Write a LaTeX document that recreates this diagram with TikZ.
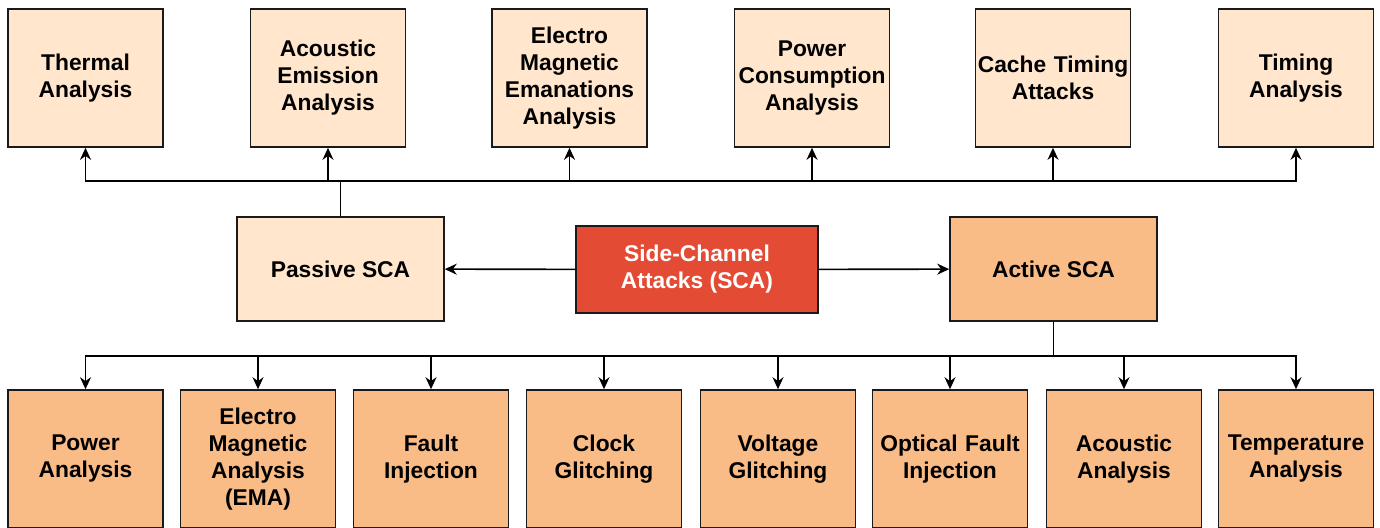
\documentclass[tikz,border=0pt]{standalone}
\usepackage{fontspec}
\setmainfont{Liberation Sans}
\usepackage{tikz}
\usetikzlibrary{calc,positioning,arrows.meta}
\definecolor{lightpeach}{HTML}{FFE6CC}
\definecolor{peach}{HTML}{FABC87}
\definecolor{scared}{HTML}{E34B34}
\definecolor{edgegray}{HTML}{1A1A1A}
\tikzset{
	x=0.5pt,
	y=-0.5pt,
	>={Stealth[length=6pt,width=5.5pt]},
	box/.style={draw=edgegray, line width=0.8pt, align=center, inner sep=0pt,
			font=\fontsize{11.4}{13.5}\selectfont\bfseries},
	leaf/.style={box, minimum width=77.5pt, minimum height=69pt, text width=77pt},
	passiveleaf/.style={leaf, fill=lightpeach},
	activeleaf/.style={leaf, fill=peach},
	link/.style={->, line width=0.8pt, draw=black},
}

\begin{document}
\begin{tikzpicture}
		\useasboundingbox (0,0) rectangle (1380,527);
		\clip (0,0) rectangle (1380,527);
		\fill[white] (0,0) rectangle (1380,527);
		% root and the two classes
		\node[box, fill=scared, text=white, minimum width=121pt, minimum height=43.5pt] (sca) at (697,269.5) {Side-Channel\\Attacks (SCA)};
		\node[box, fill=lightpeach, minimum width=103.5pt, minimum height=52pt] (passive) at (340.5,269) {Passive SCA};
		\node[box, fill=peach, minimum width=103.5pt, minimum height=52pt] (active) at (1053.5,269) {Active SCA};
		% passive attacks
		\node[passiveleaf] (thermal) at (85.5,78) {Thermal\\Analysis};
		\node[passiveleaf] (acoustem) at (328,78) {Acoustic\\Emission\\Analysis};
		\node[passiveleaf] (emanation) at (569.5,78) {Electro\\Magnetic\\Emanations\\Analysis};
		\node[passiveleaf] (powercons) at (812,78) {Power\\Consumption\\Analysis};
		\node[passiveleaf] (cache) at (1053,78) {Cache Timing\\Attacks};
		\node[passiveleaf] (timing) at (1296,78) {Timing\\Analysis};
		% active attacks
		\node[activeleaf] (power) at (85.5,459) {Power\\Analysis};
		\node[activeleaf] (ema) at (258,459) {Electro\\Magnetic\\Analysis\\(EMA)};
		\node[activeleaf] (fault) at (431,459) {Fault\\Injection};
		\node[activeleaf] (clock) at (604,459) {Clock\\Glitching};
		\node[activeleaf] (voltage) at (778,459) {Voltage\\Glitching};
		\node[activeleaf] (optical) at (950,459) {Optical Fault\\Injection};
		\node[activeleaf] (acoustic) at (1124,459) {Acoustic\\Analysis};
		\node[activeleaf] (temp) at (1296,459) {Temperature\\Analysis};
		% connectors
		\draw[link] (sca) -- (passive);
		\draw[link] (sca) -- (active);
		\foreach \leafname in {thermal,acoustem,emanation,powercons,cache,timing}
			\draw[link] (passive.north) -- ++(0,-35) -| (\leafname.south);
		\foreach \leafname in {power,ema,fault,clock,voltage,optical,acoustic,temp}
			\draw[link] (active.south) -- ++(0,34) -| (\leafname.north);
	\end{tikzpicture}
\end{document}
